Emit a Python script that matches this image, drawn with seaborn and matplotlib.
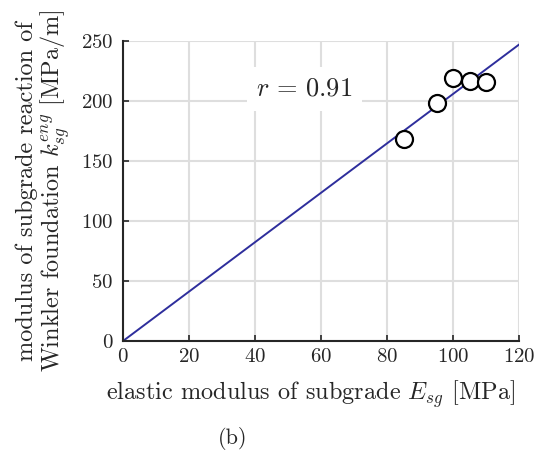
import numpy as np
import pandas as pd
import matplotlib
matplotlib.use('Agg')
import matplotlib.pyplot as plt
import seaborn as sns

# measured points (elastic modulus vs. k_sg^eng)
E_sg = [85, 95, 100, 105, 110]
k_sg = [168, 198, 219, 217, 215.5]
# fitted line through the origin
fit_x = [0, 120]
fit_y = [0, 247]
x_ticks = [0, 20, 40, 60, 80, 100, 120]
y_ticks = [0, 50, 100, 150, 200, 250]

sns.set_style('whitegrid')
plt.rcParams['font.family'] = ['cmr10', 'DejaVu Serif']
plt.rcParams['mathtext.fontset'] = 'cm'
plt.rcParams['axes.formatter.use_mathtext'] = True

fig = plt.figure(figsize=(5.39, 4.5), dpi=100)
ax = fig.add_axes([0.228, 0.242, 0.735, 0.667])

pts = pd.DataFrame({'E': E_sg, 'k': k_sg})
fit = pd.DataFrame({'x': fit_x, 'y': fit_y})

sns.lineplot(data=fit, x='x', y='y', ax=ax, color='#2e2e9c', lw=1.4, zorder=2)
sns.scatterplot(data=pts, x='E', y='k', ax=ax, s=150, facecolor='white',
                edgecolor='black', linewidth=1.6, zorder=3, clip_on=False)

ax.set_xlim(0, 120)
ax.set_ylim(0, 250)
ax.set_xticks(x_ticks)
ax.set_yticks(y_ticks)
ax.grid(True, color='#dedede', lw=1.5)
ax.set_axisbelow(True)
for s in ['top', 'right']:
    ax.spines[s].set_visible(False)
for s in ['left', 'bottom']:
    ax.spines[s].set_color('#262626')
    ax.spines[s].set_linewidth(1.5)
ax.tick_params(direction='in', length=4, width=1.2, color='#262626',
               labelsize=15, left=True, bottom=True)
ax.tick_params(axis='y', pad=7)
ax.tick_params(axis='x', pad=5)

ax.set_xlabel(r'elastic modulus of subgrade $E_{sg}$ [MPa]', fontsize=17.5)
ax.xaxis.set_label_coords(0.475, -0.125)
ax.set_ylabel('modulus of subgrade reaction of\n'
              r'Winkler foundation $k_{sg}^{eng}$ [MPa/m]', fontsize=17.5,
              linespacing=1.0)
ax.yaxis.set_label_coords(-0.128, 0.5)

ax.text(55, 210, r'$r\,=\,0.91$', fontsize=19, ha='center', va='center',
        bbox=dict(facecolor='white', edgecolor='none', pad=7), zorder=4)

fig.text(0.432, 0.026, '(b)', fontsize=16, ha='center', va='center')

fig.savefig('out.png', dpi=100)
